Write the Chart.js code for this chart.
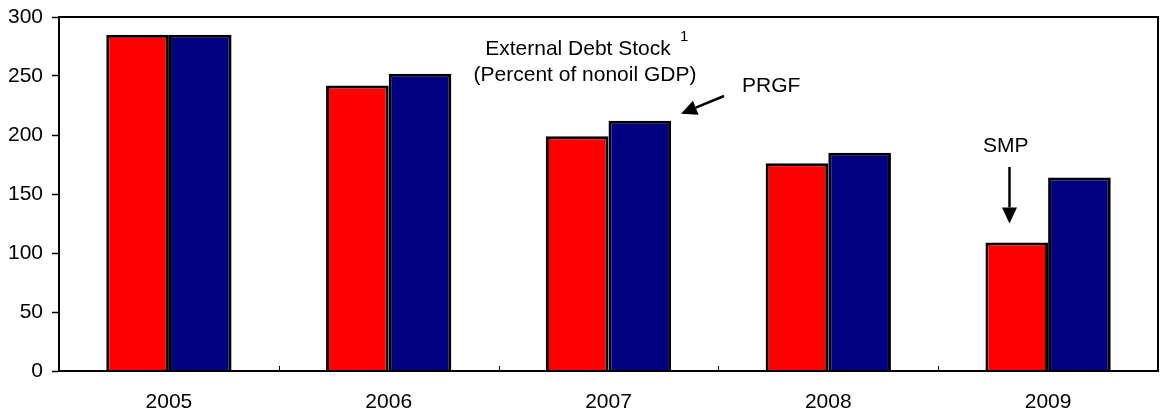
<!DOCTYPE html>
<html>
<head>
<meta charset="utf-8">
<script src="https://cdn.jsdelivr.net/npm/chart.js@4"></script>
<style>
  html, body { margin: 0; padding: 0; background: #fff; }
  #wrap { width: 1160px; height: 414px; }
</style>
</head>
<body>
<div id="wrap"><canvas id="debtChart" width="1160" height="414"></canvas></div>
<script>
const years = ['2005', '2006', '2007', '2008', '2009'];
const redValues = [285, 242, 199, 176, 109];
const blueValues = [285, 252, 212, 185, 164];
const yTicks = [0, 50, 100, 150, 200, 250, 300];

const FONT = '"Liberation Sans", Arial, sans-serif';

function arrow(ctx, x1, y1, x2, y2) {
    const ang = Math.atan2(y2 - y1, x2 - x1);
    const head = 16, half = 7.5;
    const bx = x2 - head * Math.cos(ang), by = y2 - head * Math.sin(ang);
    ctx.beginPath();
    ctx.moveTo(x1, y1);
    ctx.lineTo(bx, by);
    ctx.stroke();
    ctx.beginPath();
    ctx.moveTo(x2, y2);
    ctx.lineTo(bx + half * Math.sin(ang), by - half * Math.cos(ang));
    ctx.lineTo(bx - half * Math.sin(ang), by + half * Math.cos(ang));
    ctx.closePath();
    ctx.fill();
}

// frame, inward category ticks and the text notes
const extras = {
    id: 'extras',
    afterDraw(chart) {
        const ctx = chart.ctx;
        const a = chart.chartArea;
        const x = chart.scales.x, y = chart.scales.y;
        ctx.save();
        ctx.strokeStyle = '#000';
        ctx.fillStyle = '#000';
        ctx.lineWidth = 2;
        ctx.strokeRect(a.left, a.top, a.right - a.left, a.bottom - a.top);

        // small ticks between categories
        ctx.lineWidth = 1;
        for (let i = 1; i < years.length; i++) {
            const px = Math.round((x.getPixelForValue(i - 1) + x.getPixelForValue(i)) / 2) + 0.5;
            ctx.beginPath();
            ctx.moveTo(px, a.bottom);
            ctx.lineTo(px, a.bottom - 5);
            ctx.stroke();
        }

        ctx.font = '21px ' + FONT;
        ctx.textBaseline = 'middle';
        ctx.textAlign = 'center';
        ctx.fillText('External Debt Stock', 578, 49);
        ctx.fillText('(Percent of nonoil GDP)', 585, 75);
        ctx.font = '15px ' + FONT;
        ctx.textAlign = 'left';
        ctx.fillText('1', 680, 37);

        ctx.font = '21px ' + FONT;
        ctx.fillText('PRGF', 742, 86);
        ctx.fillText('SMP', 983, 146);

        ctx.lineWidth = 2.5;
        const blueTop = y.getPixelForValue(blueValues[2]);
        arrow(ctx, 724, 96, 681, blueTop - 7);
        const smpX = Math.round(x.getPixelForValue(4) - 39) + 0.5;
        arrow(ctx, smpX, 167, smpX, y.getPixelForValue(redValues[4]) - 19);
        ctx.restore();
    }
};

new Chart(document.getElementById('debtChart').getContext('2d'), {
    type: 'bar',
    data: {
        labels: years,
        datasets: [
            {
                label: 'Series A',
                data: redValues,
                backgroundColor: '#ff0000',
                borderColor: '#000',
                borderWidth: 3,
                barPercentage: 1,
                categoryPercentage: 0.57
            },
            {
                label: 'Series B',
                data: blueValues,
                backgroundColor: '#000080',
                borderColor: '#000',
                borderWidth: 3,
                barPercentage: 1,
                categoryPercentage: 0.57
            }
        ]
    },
    options: {
        responsive: false,
        animation: false,
        layout: { padding: { left: 0, right: 2, top: 0, bottom: 0 } },
        plugins: {
            legend: { display: false },
            tooltip: { enabled: false }
        },
        scales: {
            x: {
                grid: { display: false },
                border: { display: true, color: '#000', width: 2 },
                ticks: { color: '#000', font: { family: FONT, size: 21 }, padding: 11 },
                afterFit(scale) { scale.height = 43; }
            },
            y: {
                min: 0,
                max: 300,
                afterBuildTicks(scale) { scale.ticks = yTicks.map(v => ({ value: v })); },
                grid: { drawOnChartArea: false, tickLength: 7, color: '#000', tickWidth: 1.5 },
                border: { display: true, color: '#000', width: 2 },
                ticks: { color: '#000', font: { family: FONT, size: 21 }, padding: 9 },
                afterFit(scale) {
                    scale.width = 59;
                    scale.paddingTop = 17;
                    scale.paddingBottom = 0;
                }
            }
        }
    },
    plugins: [extras]
});
</script>
</body>
</html>
